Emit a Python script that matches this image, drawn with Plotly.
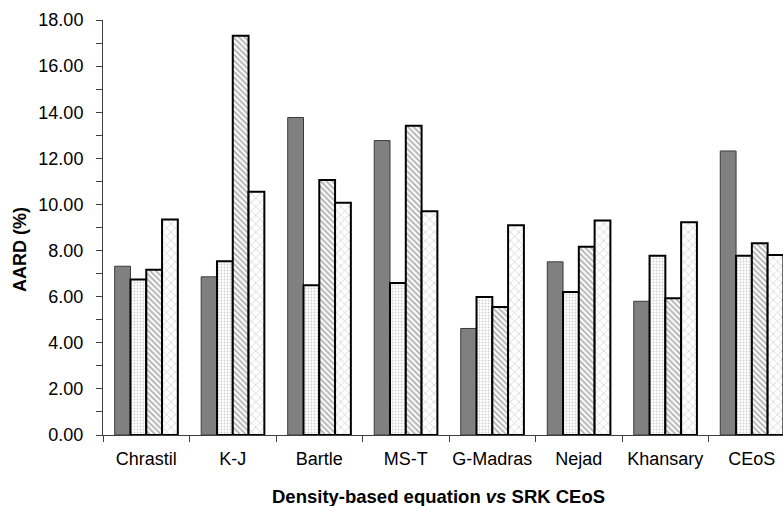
import plotly.graph_objects as go

categories = ["Chrastil", "K-J", "Bartle", "MS-T", "G-Madras", "Nejad", "Khansary", "CEoS"]
series_a = [7.32, 6.86, 13.77, 12.77, 4.62, 7.51, 5.80, 12.32]
series_b = [6.74, 7.54, 6.49, 6.59, 5.99, 6.20, 7.78, 7.78]
series_c = [7.17, 17.32, 11.06, 13.41, 5.55, 8.17, 5.93, 8.32]
series_d = [9.35, 10.55, 10.07, 9.70, 9.10, 9.30, 9.23, 7.81]
y_ticks = [0, 2, 4, 6, 8, 10, 12, 14, 16, 18]

FONT = "Liberation Sans, Arial, sans-serif"

fig = go.Figure()
fig.add_trace(go.Bar(x=categories, y=series_a, name="A",
                     marker=dict(color="#808080", line=dict(color="#3a3a3a", width=1))))
fig.add_trace(go.Bar(x=categories, y=series_b, name="B",
                     marker=dict(color="white", line=dict(color="black", width=2),
                                 pattern=dict(shape=".", fgcolor="#a0a0a0", bgcolor="white",
                                              size=3, solidity=0.3))))
fig.add_trace(go.Bar(x=categories, y=series_c, name="C",
                     marker=dict(color="white", line=dict(color="black", width=2),
                                 pattern=dict(shape="\\", fgcolor="#6e6e6e", bgcolor="white",
                                              size=4, solidity=0.5))))
fig.add_trace(go.Bar(x=categories, y=series_d, name="D",
                     marker=dict(color="white", line=dict(color="black", width=2),
                                 pattern=dict(shape="x", fgcolor="#a8a8a8", bgcolor="white",
                                              size=6, solidity=0.25))))

fig.update_layout(
    width=783, height=506,
    margin=dict(l=103, r=0, t=20, b=71),
    paper_bgcolor="white", plot_bgcolor="white",
    barmode="group", bargap=0.27, bargroupgap=0,
    showlegend=False,
    font=dict(family=FONT, size=18, color="black"),
    xaxis=dict(
        type="category", range=[-0.5, 7.36], automargin=False,
        showline=True, linecolor="#404040", linewidth=1,
        ticks="outside", tickson="boundaries", ticklen=6, tickcolor="#404040",
        showgrid=False, zeroline=False, tickangle=0,
        tickfont=dict(size=18, family=FONT),
        ticklabelstandoff=7,
    ),
    yaxis=dict(
        range=[0, 18], tickvals=y_ticks, ticktext=[f"{v:.2f}" for v in y_ticks],
        automargin=False,
        showline=True, linecolor="#404040", linewidth=1,
        ticks="outside", ticklen=6, tickcolor="#404040",
        minor=dict(dtick=1, ticks="outside", ticklen=6, tickcolor="#404040", showgrid=False),
        showgrid=False, zeroline=False,
        tickfont=dict(size=18, family=FONT),
        ticklabelstandoff=9,
    ),
    annotations=[
        dict(text="<b>AARD (%)</b>", xref="paper", yref="paper", x=-0.122, y=0.446,
             xanchor="center", yanchor="middle", textangle=-90, showarrow=False,
             font=dict(size=18, family=FONT)),
        dict(text="<b>Density-based equation <i>vs</i> SRK CEoS</b>", xref="paper", yref="paper",
             x=(438 - 103) / 680, y=-0.149, xanchor="center", yanchor="middle", showarrow=False,
             font=dict(size=18.5, family=FONT)),
    ],
)

fig.write_html("out.html",
               config={"displayModeBar": False},
               post_script="document.body.style.margin='0';document.body.style.overflow='hidden';")
